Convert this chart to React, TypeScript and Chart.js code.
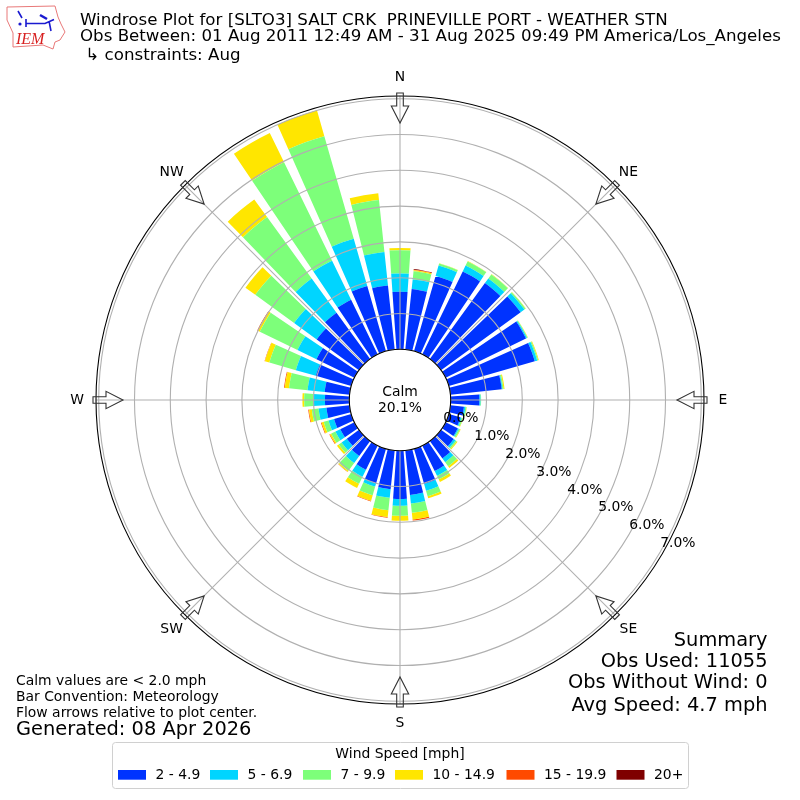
import React, { useEffect, useRef } from "react";
import { Chart, registerables, PolarAreaController } from "chart.js";

const FONT = '"DejaVu Sans"';

const directions = [0, 10, 20, 30, 40, 50, 60, 70, 80, 90, 100, 110, 120, 130, 140, 150, 160, 170, 180, 190, 200, 210, 220, 230, 240, 250, 260, 270, 280, 290, 300, 310, 320, 330, 340, 350];

const speed2to5 = [1.61, 1.70, 2.19, 2.58, 2.62, 2.75, 2.50, 2.50, 1.44, 0.80, 0.38, 0.34, 0.38, 0.44, 0.60, 0.79, 1.02, 1.25, 1.35, 1.09, 1.00, 0.75, 0.52, 0.42, 0.44, 0.50, 0.65, 0.68, 0.70, 1.03, 1.18, 1.46, 1.60, 1.70, 1.90, 1.80];
const speed5to7 = [0.51, 0.27, 0.30, 0.18, 0.16, 0.13, 0.03, 0.07, 0.02, 0.03, 0.04, 0.03, 0.03, 0.06, 0.13, 0.15, 0.20, 0.24, 0.19, 0.24, 0.10, 0.22, 0.24, 0.18, 0.15, 0.16, 0.22, 0.33, 0.48, 0.58, 0.59, 0.78, 1.18, 1.21, 1.37, 0.94];
const speed7to10 = [0.65, 0.23, 0.06, 0.13, 0.14, 0.04, 0.02, 0.03, 0.03, 0.02, 0.03, 0.04, 0.04, 0.04, 0.14, 0.11, 0.16, 0.26, 0.28, 0.35, 0.25, 0.22, 0.27, 0.10, 0.13, 0.14, 0.19, 0.25, 0.52, 0.77, 1.17, 1.34, 2.12, 3.06, 2.98, 1.46];
const speed10to15 = [0.06, 0.03, 0.01, 0.01, 0.01, 0.01, 0.01, 0.02, 0.03, 0, 0.01, 0.01, 0.02, 0.03, 0.06, 0.08, 0.06, 0.19, 0.14, 0.19, 0.16, 0.13, 0.03, 0.06, 0.04, 0.06, 0.08, 0.05, 0.12, 0.13, 0.06, 0.34, 0.61, 0.91, 0.75, 0.19];
const speed15to20 = [0, 0.01, 0, 0, 0, 0, 0, 0, 0, 0, 0, 0, 0, 0, 0, 0, 0, 0.03, 0, 0.02, 0.02, 0, 0.01, 0, 0.02, 0.02, 0.02, 0, 0.02, 0.01, 0.02, 0, 0, 0, 0, 0];
const speed20plus = [0, 0.02, 0, 0, 0, 0, 0, 0, 0, 0, 0, 0, 0, 0, 0, 0, 0, 0, 0, 0, 0, 0, 0, 0, 0, 0, 0, 0, 0, 0, 0, 0, 0, 0, 0, 0];

const speedBins = [speed2to5, speed5to7, speed7to10, speed10to15, speed15to20, speed20plus];
const speedLabels = ["2 - 4.9", "5 - 6.9", "7 - 9.9", "10 - 14.9", "15 - 19.9", "20+"];
const speedColors = ["#0033ff", "#00d5ff", "#7dff7a", "#ffe600", "#ff4a00", "#7f0000"];
const tickValues = [0, 1, 2, 3, 4, 5, 6, 7];

const compassLabels = ["N", "NE", "E", "SE", "S", "SW", "W", "NW"];
const titleLines = [
  "Windrose Plot for [SLTO3] SALT CRK  PRINEVILLE PORT - WEATHER STN",
  "Obs Between: 01 Aug 2011 12:49 AM - 31 Aug 2025 09:49 PM America/Los_Angeles",
  " \u21b3 constraints: Aug",
];
const noteLines = ["Calm values are < 2.0 mph", "Bar Convention: Meteorology", "Flow arrows relative to plot center."];
const generatedText = "Generated: 08 Apr 2026";
const summaryLines = ["Summary", "Obs Used: 11055", "Obs Without Wind: 0", "Avg Speed: 4.7 mph"];
const calmLines = ["Calm", "20.1%"];
const legendTitle = "Wind Speed [mph]";

const R_MIN = -1.416;
const R_MAX = 7.075;

// A polar-area controller whose arcs start at the top of the previous speed bin,
// so each wedge is a true stacked ring segment.
class StackedPolarController extends (PolarAreaController as any) {
  static id = "stackedPolar";
  static defaults = (PolarAreaController as any).defaults;
  static overrides = (PolarAreaController as any).overrides;
  updateElement(element: any, index: number, properties: any, mode: any) {
    const chart = (this as any).chart;
    const base = (this as any).getDataset().baseValues;
    if (properties && base) {
      properties.innerRadius = chart.scales.r.getDistanceFromCenterForValue(base[index]);
    }
    (super.updateElement as any)(element, index, properties, mode);
  }
}

Chart.register(...registerables, StackedPolarController as any);

function text(ctx: CanvasRenderingContext2D, s: string, x: number, y: number, size: number, align: CanvasTextAlign = "left", color = "#000") {
  ctx.font = `${size}px ${FONT}`;
  ctx.fillStyle = color;
  ctx.textAlign = align;
  ctx.textBaseline = "middle";
  ctx.fillText(s, x, y + 1.5);
}

function drawLogo(ctx: CanvasRenderingContext2D) {
  ctx.save();
  ctx.strokeStyle = "#e87878";
  ctx.lineWidth = 1;
  ctx.beginPath();
  const outline = [[7, 7], [55, 6], [58, 17], [61, 24], [65, 32], [60, 40], [55, 42], [53, 49], [43, 45], [13, 47], [13, 33], [7, 20]];
  outline.forEach(([x, y], i) => (i ? ctx.lineTo(x, y) : ctx.moveTo(x, y)));
  ctx.closePath();
  ctx.stroke();
  ctx.strokeStyle = "#1a1ad0";
  ctx.fillStyle = "#1a1ad0";
  ctx.lineWidth = 1.6;
  ctx.beginPath();
  ctx.moveTo(26, 23.5); ctx.lineTo(45, 23.5); ctx.lineTo(54, 19.5);
  ctx.moveTo(26, 19); ctx.lineTo(26, 27);
  ctx.moveTo(49, 21); ctx.lineTo(51, 31);
  ctx.moveTo(18, 11); ctx.lineTo(22, 18);
  ctx.stroke();
  ctx.lineWidth = 2.4;
  ctx.beginPath();
  ctx.moveTo(40, 15); ctx.lineTo(47, 19);
  ctx.stroke();
  ctx.beginPath();
  ctx.arc(20, 24, 1.6, 0, Math.PI * 2);
  ctx.fill();
  ctx.fillStyle = "#d82020";
  ctx.font = 'italic 16px "Liberation Serif"';
  ctx.textAlign = "left";
  ctx.textBaseline = "alphabetic";
  ctx.fillText("IEM", 16, 44);
  ctx.restore();
}

function drawArrow(ctx: CanvasRenderingContext2D, cx: number, cy: number, deg: number) {
  ctx.save();
  ctx.translate(cx, cy);
  ctx.rotate((deg * Math.PI) / 180);
  ctx.strokeStyle = "#333";
  ctx.lineWidth = 1.1;
  ctx.beginPath();
  const outer = 307, tip = 277, neck = 294;
  ctx.moveTo(-3.3, -outer);
  ctx.lineTo(3.3, -outer);
  ctx.lineTo(3.3, -neck);
  ctx.lineTo(8.7, -neck);
  ctx.lineTo(0, -tip);
  ctx.lineTo(-8.7, -neck);
  ctx.lineTo(-3.3, -neck);
  ctx.closePath();
  ctx.stroke();
  ctx.restore();
}

const decorations = {
  id: "decorations",
  afterDraw(chart: any) {
    const { ctx } = chart;
    const scale = chart.scales.r;
    const cx = scale.xCenter;
    const cy = scale.yCenter;
    const outer = scale.drawingArea;
    const hole = scale.getDistanceFromCenterForValue(0);
    ctx.save();

    ctx.strokeStyle = "#b0b0b0";
    ctx.lineWidth = 1.1;
    for (let i = 0; i < 4; i++) {
      const a = (i * Math.PI) / 4;
      ctx.beginPath();
      ctx.moveTo(cx - Math.sin(a) * outer, cy + Math.cos(a) * outer);
      ctx.lineTo(cx + Math.sin(a) * outer, cy - Math.cos(a) * outer);
      ctx.stroke();
    }

    ctx.beginPath();
    ctx.arc(cx, cy, hole, 0, Math.PI * 2);
    ctx.fillStyle = "#fff";
    ctx.fill();
    ctx.strokeStyle = "#000";
    ctx.lineWidth = 1.1;
    ctx.stroke();

    ctx.beginPath();
    ctx.arc(cx, cy, outer, 0, Math.PI * 2);
    ctx.stroke();

    compassLabels.forEach((label, i) => {
      const a = (i * Math.PI) / 4;
      drawArrow(ctx, cx, cy, i * 45);
      const r = 323;
      text(ctx, label, cx + Math.sin(a) * r, cy - Math.cos(a) * r - 1, 13.9, "center");
    });

    scale.ticks.forEach((tick: any) => {
      const r = scale.getDistanceFromCenterForValue(tick.value);
      const a = (120 * Math.PI) / 180;
      text(ctx, tick.label, cx + Math.sin(a) * r - 0.7, cy - Math.cos(a) * r - 8.5, 13.9);
    });

    text(ctx, calmLines[0], cx, 390.5, 13.9, "center");
    text(ctx, calmLines[1], cx, 406.5, 13.9, "center");

    drawLogo(ctx);
    titleLines.forEach((line, i) => text(ctx, line, 80, [19, 35.5, 54][i], 16.67));
    noteLines.forEach((line, i) => text(ctx, line, 16, 679.5 + i * 16, 13.9));
    text(ctx, generatedText, 16, 728.5, 19.4);
    summaryLines.forEach((line, i) => text(ctx, line, 767.5, [639, 660.5, 681.5, 704][i], 19.4, "right"));

    // legend
    ctx.beginPath();
    ctx.roundRect(112.5, 742.5, 576, 46, 3);
    ctx.fillStyle = "#fff";
    ctx.fill();
    ctx.strokeStyle = "#d0d0d0";
    ctx.lineWidth = 1;
    ctx.stroke();
    text(ctx, legendTitle, 400, 752.5, 13.9, "center");
    const keyX = [118, 210, 303, 395, 506.5, 616.5];
    speedLabels.forEach((label, i) => {
      ctx.fillStyle = speedColors[i];
      ctx.fillRect(keyX[i], 770, 28, 9.7);
      text(ctx, label, keyX[i] + 37.5, 773.5, 13.9);
    });
    ctx.restore();
  },
};

function topOfBin(binIndex: number, d: number) {
  let sum = 0;
  for (let b = 0; b <= binIndex; b++) sum += speedBins[b][d];
  return sum;
}

export default function App() {
  const ref = useRef<HTMLCanvasElement>(null);
  useEffect(() => {
    const chart = new Chart(ref.current as HTMLCanvasElement, {
      type: "stackedPolar",
      data: {
        labels: directions.flatMap((d) => [`${d}`, ""]),
        datasets: speedLabels.map((label, i) => ({
          label,
          data: directions.flatMap((_, d) => [topOfBin(i, d), R_MIN]),
          baseValues: directions.flatMap((_, d) => [i === 0 ? 0 : topOfBin(i - 1, d), R_MIN]),
          backgroundColor: speedColors[i],
          borderWidth: 0,
          angle: (c: any) => (c.index % 2 === 0 ? 8 : 2),
        })),
      },
      options: {
        responsive: false,
        animation: false,
        devicePixelRatio: 1,
        layout: { padding: 96 },
        plugins: { legend: { display: false }, tooltip: { enabled: false }, title: { display: false } },
        scales: {
          r: {
            type: "radialLinear",
            min: R_MIN,
            max: R_MAX,
            startAngle: -4,
            afterBuildTicks: (s: any) => {
              s.ticks = tickValues.map((value) => ({ value }));
            },
            ticks: { display: false, callback: (v: any) => `${Number(v).toFixed(1)}%` },
            pointLabels: { display: false },
            angleLines: { display: false },
            grid: { color: "#b0b0b0", lineWidth: 1.1, circular: true, z: 1 },
          },
        },
      } as any,
      plugins: [decorations],
    } as any);
    return () => chart.destroy();
  }, []);
  return (
    <div style={{ position: "absolute", left: 0, top: 0, width: 800, height: 800 }}>
      <canvas ref={ref} width={800} height={800} style={{ display: "block", width: 800, height: 800 }} />
    </div>
  );
}
